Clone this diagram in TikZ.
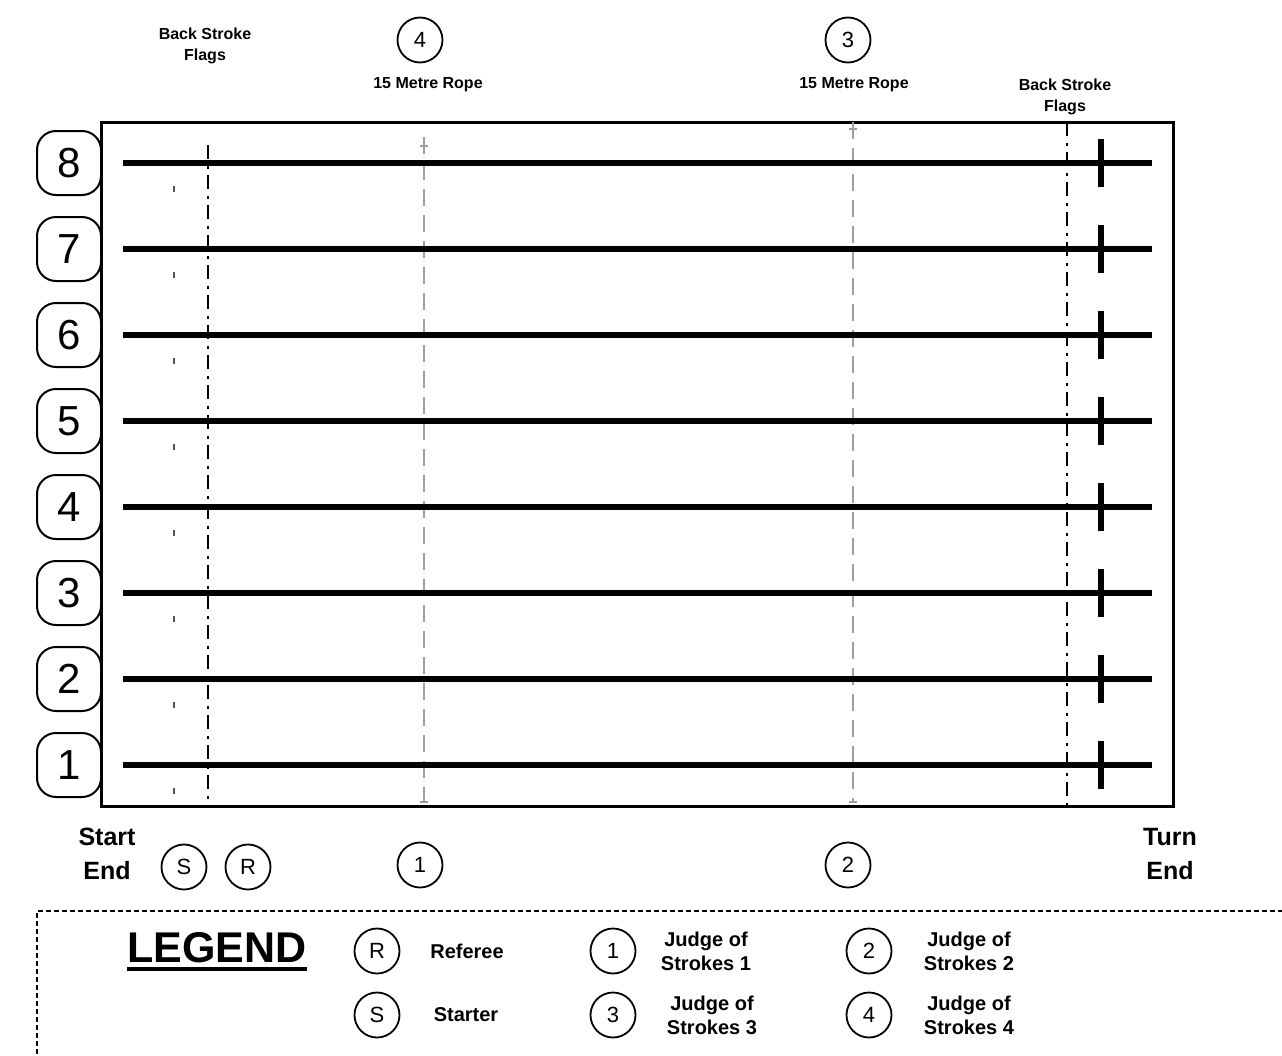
\documentclass[tikz,border=0pt]{standalone}
\usepackage{fontspec}
\setmainfont{Liberation Sans}
\usetikzlibrary{positioning}
\tikzset{
  pool/.style={draw, line width=3pt},
  laneline/.style={line width=5.5pt},
  lanebox/.style={draw, fill=white, rounded corners=19pt, line width=2pt, minimum width=64pt, minimum height=64pt, inner sep=0pt, font=\fontsize{42}{42}\selectfont},
  official/.style={draw, circle, line width=1.8pt, minimum size=45pt, inner sep=0pt, font=\fontsize{22}{22}\selectfont},
  flagline/.style={line width=2.5pt, dash pattern=on 14pt off 7pt on 2.5pt off 6.5pt},
  ropeline/.style={line width=2pt, gray!75, dash pattern=on 17pt off 9pt},
  ropetick/.style={line width=1.5pt, gray!75},
  startmark/.style={line width=1.2pt, black!65},
  smalltext/.style={align=center, font=\bfseries\fontsize{16}{21}\selectfont},
  endtext/.style={align=center, font=\bfseries\fontsize{25}{34}\selectfont},
  legendtext/.style={align=center, font=\bfseries\fontsize{20}{24}\selectfont},
  legendtitle/.style={inner sep=0pt, font=\bfseries\fontsize{43}{43}\selectfont},
  legendbox/.style={line width=2.2pt, dash pattern=on 5pt off 3pt}
}
\begin{document}
\begin{tikzpicture}[x=1pt, y=-1pt]
  \clip (0,0) rectangle (1282,1055);
  \draw[pool] (101,122) rectangle (1173,806);
  \draw[flagline] (208,145) -- (208,806);
  \draw[flagline] (1067,122) -- (1067,806);
  \draw[ropeline] (424,137) -- (424,803);
  \draw[ropeline] (853,122) -- (853,803);
  \draw[ropetick] (420,146) -- (428,146);
  \draw[ropetick] (420,802) -- (428,802);
  \draw[ropetick] (849,129) -- (857,129);
  \draw[ropetick] (849,802) -- (857,802);
  \foreach \n in {1,...,8} {
    \pgfmathsetmacro{\ly}{163+(8-\n)*86}
    \draw[laneline] (123,\ly) -- (1152,\ly);
    \draw[laneline] (1101,\ly-24) -- (1101,\ly+24);
    \draw[startmark] (174,\ly+23) -- (174,\ly+29);
    \node[lanebox] (lane\n) at (69,\ly) {\n};
  }

  \node[smalltext] (flagsleft) at (205,46) {Back Stroke\\Flags};
  \node[smalltext] (flagsright) at (1065,97) {Back Stroke\\Flags};
  \node[official] (judgefour) at (420,40) {4};
  \node[official] (judgethree) at (848,40) {3};
  \node[smalltext] (ropeleft) at (428,85) {15 Metre Rope};
  \node[smalltext] (roperight) at (854,85) {15 Metre Rope};

  \node[endtext] (startend) at (107,854) {Start\\End};
  \node[endtext] (turnend) at (1170,854) {Turn\\End};
  \node[official] (starter) at (184,867) {S};
  \node[official] (referee) at (248,867) {R};
  \node[official] (judgeone) at (420,865) {1};
  \node[official] (judgetwo) at (848,865) {2};

  \draw[legendbox] (37,1070) -- (37,911) -- (1300,911);
  \node[legendtitle] (legend) at (217,948) {LEGEND};
  \draw[line width=3.5pt] ([yshift=-6pt]legend.base west) -- ([yshift=-6pt]legend.base east);
  \node[official] (keyR) at (377,951) {R};
  \node[legendtext] (keyRtext) at (467,951) {Referee};
  \node[official] (keyS) at (377,1015) {S};
  \node[legendtext] (keyStext) at (466,1015) {Starter};
  \node[official] (keyone) at (613,951) {1};
  \node[legendtext] (keyonetext) at (706,951) {Judge of\\Strokes 1};
  \node[official] (keythree) at (613,1015) {3};
  \node[legendtext] (keythreetext) at (712,1015) {Judge of\\Strokes 3};
  \node[official] (keytwo) at (869,951) {2};
  \node[legendtext] (keytwotext) at (969,951) {Judge of\\Strokes 2};
  \node[official] (keyfour) at (869,1015) {4};
  \node[legendtext] (keyfourtext) at (969,1015) {Judge of\\Strokes 4};
\end{tikzpicture}
\end{document}
